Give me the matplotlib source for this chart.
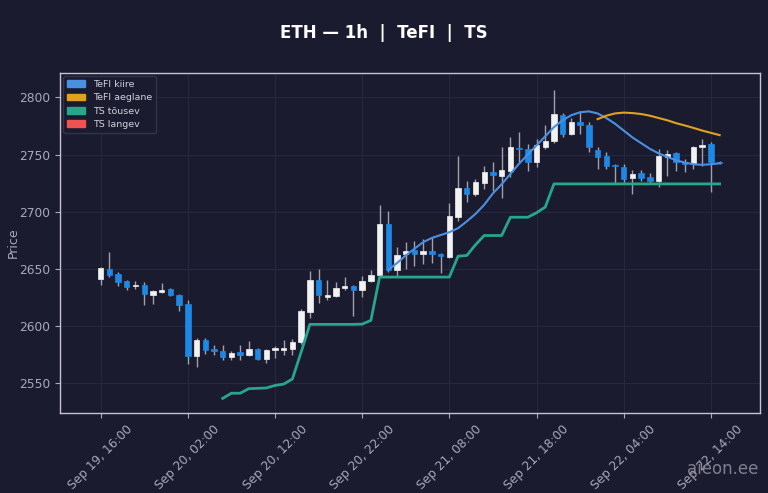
import numpy as np
import pandas as pd
import matplotlib
matplotlib.use("Agg")
import matplotlib.pyplot as plt
import matplotlib.dates as mdates
from matplotlib.patches import Patch

# hourly candles, Sep 19 16:00 -> Sep 22 15:00
times = pd.date_range("2024-09-19 16:00", periods=72, freq="h")

opens = [2640.7, 2650.0, 2645.3, 2639.2, 2634.8, 2635.4, 2627.3, 2629.6, 2632.2, 2626.9,
         2619.4, 2573.3, 2587.9, 2579.8, 2577.7, 2572.7, 2576.9, 2574.2, 2579.7, 2570.7,
         2578.9, 2578.6, 2579.5, 2585.6, 2612.1, 2640.4, 2625.2, 2626.1, 2633.4, 2635.0,
         2631.0, 2639.2, 2644.8, 2689.3, 2648.5, 2662.5, 2666.0, 2663.1, 2665.4, 2662.5,
         2660.7, 2695.1, 2720.8, 2715.6, 2725.4, 2734.8, 2731.6, 2735.9, 2756.0, 2754.9,
         2743.2, 2756.3, 2762.2, 2784.6, 2768.0, 2778.1, 2776.1, 2754.3, 2748.4, 2740.9,
         2739.4, 2729.2, 2733.6, 2730.1, 2726.6, 2748.2, 2751.0, 2743.2, 2741.8, 2756.3,
         2759.3, 2743.5]
highs = [2651.5, 2665.0, 2647.0, 2640.4, 2639.0, 2638.0, 2631.0, 2637.4, 2633.0, 2628.0,
         2622.3, 2589.7, 2589.0, 2583.6, 2583.6, 2578.0, 2583.6, 2586.5, 2580.6, 2580.0,
         2582.7, 2587.3, 2588.2, 2615.0, 2647.6, 2649.7, 2640.4, 2638.3, 2642.7, 2636.0,
         2644.0, 2648.5, 2706.2, 2701.0, 2668.9, 2673.3, 2674.7, 2676.2, 2677.6, 2663.5,
         2708.0, 2749.0, 2727.2, 2728.7, 2740.3, 2743.8, 2756.9, 2765.6, 2769.4, 2759.3,
         2763.6, 2775.9, 2806.5, 2786.0, 2782.0, 2787.8, 2778.5, 2756.3, 2752.0, 2741.5,
         2741.5, 2736.5, 2736.5, 2733.6, 2754.9, 2754.0, 2752.5, 2746.0, 2757.5, 2763.6,
         2760.7, 2744.5]
lows = [2636.0, 2642.7, 2634.8, 2631.7, 2632.2, 2618.0, 2619.4, 2629.0, 2626.0, 2613.0,
        2566.4, 2564.0, 2575.7, 2574.2, 2569.8, 2569.8, 2569.8, 2574.0, 2570.0, 2567.8,
        2572.0, 2574.2, 2574.2, 2584.0, 2607.2, 2620.3, 2622.3, 2625.0, 2631.0, 2609.0,
        2625.2, 2638.0, 2643.0, 2647.0, 2642.7, 2650.0, 2652.0, 2654.4, 2655.0, 2646.2,
        2659.0, 2692.2, 2708.2, 2714.1, 2720.0, 2718.4, 2712.0, 2730.0, 2743.2, 2735.9,
        2739.4, 2755.0, 2760.0, 2765.6, 2767.0, 2768.0, 2752.0, 2737.4, 2737.4, 2724.3,
        2725.7, 2715.6, 2727.2, 2724.3, 2722.0, 2731.6, 2735.9, 2734.4, 2737.4, 2740.3,
        2717.0, 2741.5]
closes = [2650.5, 2644.8, 2638.3, 2634.0, 2635.7, 2627.5, 2630.4, 2631.7, 2626.7, 2618.5,
          2573.3, 2587.9, 2578.6, 2578.0, 2572.7, 2576.6, 2574.2, 2579.7, 2570.7, 2579.2,
          2580.6, 2580.6, 2585.6, 2612.7, 2640.4, 2626.7, 2626.7, 2633.1, 2635.0, 2631.0,
          2639.2, 2644.8, 2689.3, 2649.1, 2661.6, 2665.4, 2663.1, 2665.4, 2662.5, 2661.0,
          2696.6, 2720.8, 2715.6, 2725.7, 2735.0, 2732.2, 2736.8, 2756.3, 2754.6, 2743.2,
          2758.4, 2762.2, 2785.5, 2768.0, 2778.1, 2775.9, 2756.3, 2747.6, 2740.3, 2739.8,
          2728.7, 2733.0, 2729.2, 2726.6, 2749.0, 2750.5, 2743.2, 2741.8, 2756.3, 2758.4,
          2743.2, 2743.0]

# TeFI fast line starts at candle 33, slow at 57, TS rising at 14
tefi_fast = [2649.0, 2655.0, 2661.6, 2667.5, 2673.3, 2677.0, 2679.5, 2682.0, 2685.5, 2691.5,
             2698.0, 2706.0, 2716.0, 2724.0, 2733.0, 2742.0, 2750.0, 2758.0, 2766.0, 2774.0,
             2780.0, 2784.5, 2787.0, 2787.8, 2786.0, 2782.0, 2777.0, 2771.0, 2765.0, 2760.0,
             2755.0, 2751.0, 2748.0, 2745.0, 2743.0, 2741.5, 2741.0, 2741.5, 2742.3]
tefi_slow = [2781.0, 2784.0, 2786.0, 2786.7, 2786.3, 2785.5, 2784.0, 2782.0, 2780.0, 2777.5,
             2775.5, 2773.3, 2771.0, 2769.0, 2767.0]
ts_up = [2536.5, 2541.0, 2541.0, 2545.0, 2545.3, 2545.6, 2547.8, 2549.0, 2553.5, 2577.0,
         2601.3, 2601.3, 2601.3, 2601.3, 2601.3, 2601.3, 2601.5, 2604.8, 2642.7, 2642.7,
         2642.7, 2642.7, 2642.7, 2642.7, 2642.7, 2642.7, 2642.7, 2661.0, 2661.6, 2671.0,
         2679.1, 2679.1, 2679.1, 2695.1, 2695.1, 2695.1, 2699.0, 2704.0, 2724.3, 2724.3,
         2724.3, 2724.3, 2724.3, 2724.3, 2724.3, 2724.3, 2724.3, 2724.3, 2724.3, 2724.3,
         2724.3, 2724.3, 2724.3, 2724.3, 2724.3, 2724.3, 2724.3, 2724.3]

bg = "#1b1b2f"
up_col = "#f2f2f2"
down_col = "#1e88e5"
wick_col = "#a0a0ac"
fast_col = "#4a90e2"
slow_col = "#e0a21b"
ts_up_col = "#26a68a"
ts_dn_col = "#ef5350"
txt_col = "#a8a8b8"

fig = plt.figure(figsize=(7.68, 4.93), dpi=100, facecolor=bg)
ax = fig.add_axes([0.078, 0.163, 0.912, 0.688], facecolor=bg)

x = mdates.date2num(times)
w = 0.62 / 24

for xi, o, h, l, c in zip(x, opens, highs, lows, closes):
    col = up_col if c >= o else down_col
    ax.vlines(xi, l, h, color=wick_col, linewidth=1.0, zorder=2)
    bottom = min(o, c)
    height = max(abs(c - o), 0.8)
    ax.bar(xi, height, width=w, bottom=bottom, color=col, edgecolor=col,
           linewidth=0.5, zorder=3)

ax.plot(x[33:], tefi_fast, color=fast_col, linewidth=1.5, zorder=4)
ax.plot(x[57:], tefi_slow, color=slow_col, linewidth=1.5, zorder=4)
ax.plot(x[14:], ts_up, color=ts_up_col, linewidth=2, zorder=4)

ax.set_xlim(x[0] - 4.67 / 24, x[-1] + 4.67 / 24)
ax.set_ylim(2524, 2821)

ax.set_yticks([2550, 2600, 2650, 2700, 2750, 2800])
ax.set_xticks(x[::10])
ax.set_xticklabels([t.strftime("%b %d, %H:%M") for t in times[::10]],
                   rotation=45, ha="center")
ax.tick_params(colors=txt_col, labelsize=8.8)
ax.grid(True, color="#272740", linewidth=0.8)
ax.set_axisbelow(True)
for s in ax.spines.values():
    s.set_color("#c4c4d0")
    s.set_linewidth(1)

ax.set_ylabel("Price", color=txt_col, fontsize=9)
ax.yaxis.set_label_coords(-0.058, 0.5)

handles = [Patch(color=fast_col, label="TeFI kiire"),
           Patch(color=slow_col, label="TeFI aeglane"),
           Patch(color=ts_up_col, label="TS tõusev"),
           Patch(color=ts_dn_col, label="TS langev")]
leg = ax.legend(handles=handles, loc="upper left", fontsize=6.8, facecolor=bg,
                edgecolor="#33334a", labelcolor="#d0d0dc", framealpha=1,
                handlelength=2.0, borderpad=0.4, labelspacing=0.45,
                borderaxespad=0.3)

fig.text(0.5, 0.933, "ETH — 1h  |  TeFI  |  TS", color="white", fontsize=12,
         fontweight="bold", ha="center", va="center")
fig.text(0.987, 0.03, "aieon.ee", color="#8a8a9a", fontsize=12, ha="right",
         va="bottom", alpha=0.9)

fig.savefig("out.png", dpi=100, facecolor=bg)
